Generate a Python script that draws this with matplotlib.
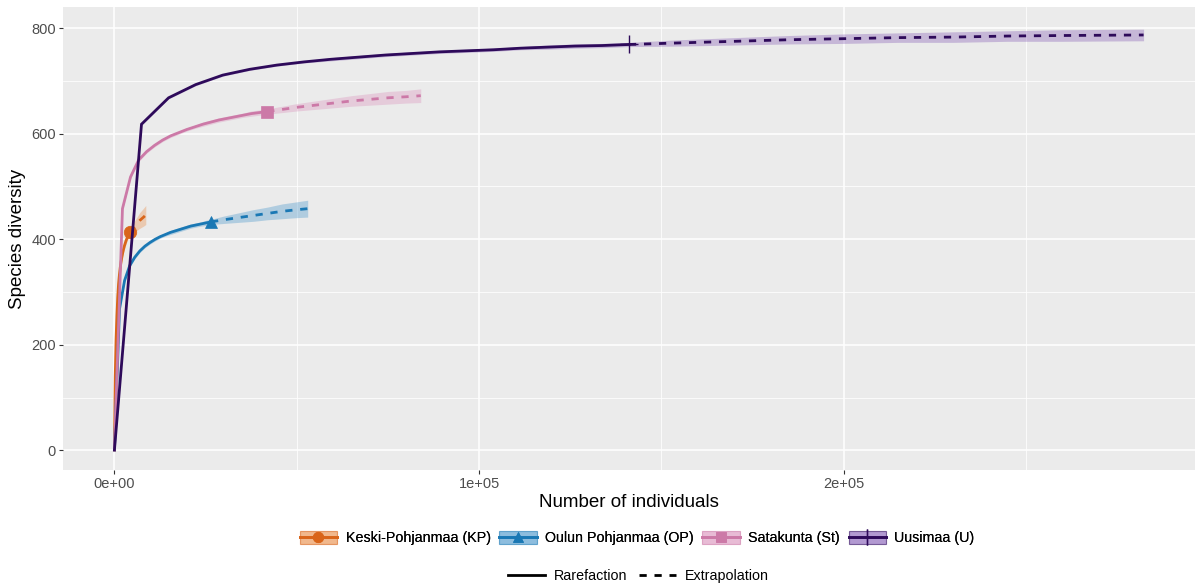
import matplotlib
matplotlib.use("Agg")
import matplotlib.pyplot as plt
from matplotlib.lines import Line2D
from matplotlib.patches import Patch
from matplotlib.ticker import FixedLocator

plt.rcParams['font.family'] = ['Liberation Sans', 'DejaVu Sans']

# ---------------- data ----------------
names = ["Keski-Pohjanmaa (KP)", "Oulun Pohjanmaa (OP)", "Satakunta (St)", "Uusimaa (U)"]
colors = ["#D9651A", "#1A78B4", "#CC79A7", "#2E0A5A"]
fill_colors = ["#E8843A", "#3A8FC8", "#D98BB8", "#7B4FB0"]
markers = ["o", "^", "s", "+"]

# Keski-Pohjanmaa
kp_rare_x = [1, 226, 453, 679, 905, 1132, 1358, 1584, 1811, 2037, 2263, 2490, 2716, 2942, 3168, 3395, 3621, 3847, 4074, 4300]
kp_rare_y = [1, 140, 210, 255, 290, 315, 332, 346, 357, 366, 374, 381, 387, 392, 397, 401, 405, 408, 411, 413]
kp_rare_ci = [0, 4, 5, 5, 6, 6, 6, 6, 6, 6, 6, 6, 6, 6, 6, 6, 6, 6, 6, 6]
kp_ext_x = [4300, 5000, 6000, 7000, 8000, 8600]
kp_ext_y = [413, 420, 428, 436, 442, 446]
kp_ext_ci = [6, 9, 12, 15, 17, 18]

# Oulun Pohjanmaa
op_rare_x = [1, 1395, 2790, 4185, 5580, 6975, 8370, 9765, 11160, 12555, 13950, 15345, 16740, 18135, 19530, 20925, 22320, 23715, 25110, 26500]
op_rare_y = [1, 268, 322, 350, 366, 378, 387, 394, 400, 405, 409, 413, 416, 419, 422, 425, 427, 429, 431, 433]
op_rare_ci = [0, 3, 3, 3, 3, 3, 3, 3, 3, 3, 3, 4, 4, 4, 4, 4, 4, 4, 5, 5]
op_ext_x = [26500, 30000, 34000, 38000, 42000, 46000, 50000, 53000]
op_ext_y = [433, 437, 441, 445, 449, 453, 456, 458]
op_ext_ci = [5, 7, 9, 11, 12, 14, 15, 16]

# Satakunta
st_rare_x = [1, 2206, 4411, 6616, 8821, 11026, 13231, 15436, 17641, 19846, 22051, 24256, 26461, 28666, 30871, 33076, 35281, 37486, 39691, 41900]
st_rare_y = [1, 458, 518, 550, 566, 578, 588, 596, 602, 608, 613, 618, 622, 626, 629, 632, 635, 638, 640, 642]
st_rare_ci = [0, 3, 3, 3, 3, 3, 3, 3, 3, 3, 3, 4, 4, 4, 4, 4, 4, 5, 5, 5]
st_ext_x = [41900, 46000, 50000, 55000, 60000, 65000, 70000, 75000, 80000, 84000]
st_ext_y = [642, 646, 650, 654, 658, 662, 665, 668, 670, 672]
st_ext_ci = [5, 6, 7, 8, 9, 10, 11, 12, 12, 13]

# Uusimaa
u_rare_x = [1, 7426, 14852, 22278, 29704, 37130, 44556, 51982, 59408, 66834, 74260, 81686, 89112, 96538, 103964, 111390, 118816, 126242, 133668, 141100]
u_rare_y = [1, 618, 668, 693, 711, 722, 730, 736, 741, 745, 749, 752, 755, 757, 759, 762, 764, 766, 767, 769]
u_rare_ci = [0, 2, 2, 2, 2, 2, 2, 2, 3, 3, 3, 3, 3, 3, 3, 3, 4, 4, 4, 4]
u_ext_x = [141100, 155000, 170000, 185000, 200000, 215000, 230000, 245000, 260000, 282200]
u_ext_y = [769, 772, 775, 778, 780, 782, 783, 785, 786, 787]
u_ext_ci = [4, 6, 7, 8, 9, 9, 10, 10, 11, 11]

x_ticks = [0, 100000, 200000]
x_ticklabels = ["0e+00", "1e+05", "2e+05"]
y_ticks = [0, 200, 400, 600, 800]

series = [
    (kp_rare_x, kp_rare_y, kp_rare_ci, kp_ext_x, kp_ext_y, kp_ext_ci),
    (op_rare_x, op_rare_y, op_rare_ci, op_ext_x, op_ext_y, op_ext_ci),
    (st_rare_x, st_rare_y, st_rare_ci, st_ext_x, st_ext_y, st_ext_ci),
    (u_rare_x, u_rare_y, u_rare_ci, u_ext_x, u_ext_y, u_ext_ci),
]

# ---------------- figure ----------------
fig = plt.figure(figsize=(12, 5.87), dpi=100)
ax = fig.add_axes([63 / 1200, 1 - 470 / 587, (1195 - 63) / 1200, (470 - 7) / 587])
ax.set_facecolor("#EBEBEB")
for s in ax.spines.values():
    s.set_visible(False)

ax.xaxis.set_major_locator(FixedLocator(x_ticks))
ax.xaxis.set_minor_locator(FixedLocator([50000, 150000, 250000]))
ax.yaxis.set_major_locator(FixedLocator(y_ticks))
ax.yaxis.set_minor_locator(FixedLocator([100, 300, 500, 700]))
ax.grid(which="major", color="white", linewidth=1.1)
ax.grid(which="minor", color="white", linewidth=0.55)
ax.set_axisbelow(True)
ax.tick_params(which="major", length=3, color="#333333", labelcolor="#4D4D4D", labelsize=10.5, pad=2)
ax.tick_params(which="minor", length=0)
ax.set_xticklabels(x_ticklabels)

for (rx, ry, rci, ex, ey, eci), col, fcol, mk in zip(series, colors, fill_colors, markers):
    ax.fill_between(rx, [a - b for a, b in zip(ry, rci)], [a + b for a, b in zip(ry, rci)],
                    color=fcol, alpha=0.33, linewidth=0)
    ax.fill_between(ex, [a - b for a, b in zip(ey, eci)], [a + b for a, b in zip(ey, eci)],
                    color=fcol, alpha=0.33, linewidth=0)
    ax.plot(rx, ry, color=col, linewidth=2.0, solid_joinstyle="miter")
    ax.plot(ex, ey, color=col, linewidth=2.0, linestyle=(0, (2.6, 2.8)))
    ms = 13 if mk == "+" else 9
    ax.plot([rx[-1]], [ry[-1]], marker=mk, color=col, markersize=ms, markeredgewidth=1.0 if mk == "+" else 0.5,
            linestyle="none")

ax.set_xlim(-14100, 296300)
ax.set_ylim(-37, 840)
ax.set_xlabel("Number of individuals", fontsize=13.5, color="black", labelpad=2)
ax.set_ylabel("Species diversity", fontsize=13.5, color="black", labelpad=4)

# legends
h1 = []
for col, fcol, mk in zip(colors, fill_colors, markers):
    ms = 11 if mk == "+" else 7.5
    h1.append((Patch(facecolor=fcol, alpha=0.35, edgecolor=col, linewidth=0.8),
               Line2D([], [], color=col, linewidth=2.0, marker=mk, markersize=ms, markeredgewidth=1.0 if mk == "+" else 0.5)))
leg1 = fig.legend(h1, names, loc="center", bbox_to_anchor=(0.531, 0.083), ncol=4, frameon=False,
                  fontsize=10.3, handlelength=2.6, handleheight=1.0, columnspacing=0.6, handletextpad=0.6)
fig.add_artist(leg1)

h2 = [Line2D([], [], color="black", linewidth=2.0),
      Line2D([], [], color="black", linewidth=2.0, linestyle=(0, (2.6, 2.8)))]
fig.legend(h2, ["Rarefaction", "Extrapolation"], loc="center", bbox_to_anchor=(0.532, 0.018), ncol=2,
           frameon=False, fontsize=10.3, handlelength=2.6, columnspacing=0.8, handletextpad=0.6)

fig.savefig("out.png", dpi=100)
